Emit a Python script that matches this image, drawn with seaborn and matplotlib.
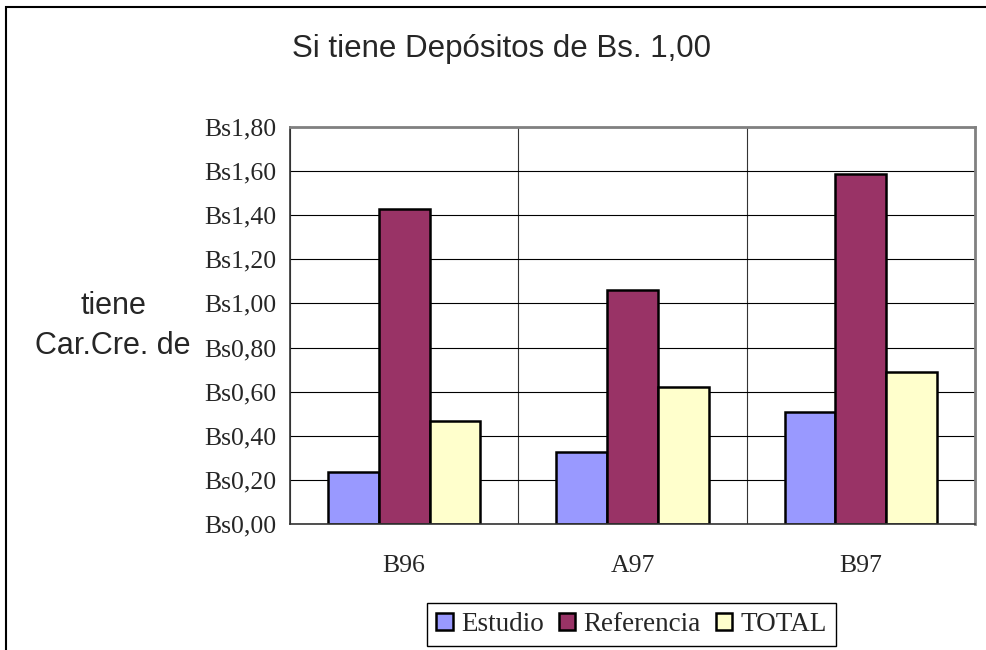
import pandas as pd
import seaborn as sns
import matplotlib.pyplot as plt
from matplotlib.patches import Patch, Rectangle

# data
periods = ['B96', 'A97', 'B97']
series = ['Estudio', 'Referencia', 'TOTAL']
estudio = [0.236, 0.326, 0.510]
referencia = [1.428, 1.059, 1.588]
total = [0.465, 0.621, 0.689]
colors = ['#9999FF', '#993366', '#FFFFCC']
y_ticks = [0.0, 0.2, 0.4, 0.6, 0.8, 1.0, 1.2, 1.4, 1.6, 1.8]
y_labels = ['Bs0,00', 'Bs0,20', 'Bs0,40', 'Bs0,60', 'Bs0,80',
            'Bs1,00', 'Bs1,20', 'Bs1,40', 'Bs1,60', 'Bs1,80']

rows = []
for name, vals in zip(series, [estudio, referencia, total]):
    for p, v in zip(periods, vals):
        rows.append({'periodo': p, 'serie': name, 'valor': v})
df = pd.DataFrame(rows)

sns.set_theme()
sns.set_style('white')
serif = ['Liberation Serif', 'DejaVu Serif']
sans = ['Liberation Sans', 'DejaVu Sans']

fig = plt.figure(figsize=(9.86, 6.5), dpi=100)
ax = fig.add_axes([290 / 986, 1 - 524 / 650, 685 / 986, 397 / 650])

sns.barplot(data=df, x='periodo', y='valor', hue='serie', order=periods,
            hue_order=series, palette=colors, width=0.667, gap=0,
            edgecolor='black', linewidth=1.8, saturation=1, ax=ax, legend=False)

ax.set_xlim(-0.5, 2.5)
ax.set_ylim(0, 1.8)
ax.set_yticks(y_ticks)
ax.set_yticklabels(y_labels, family=serif, fontsize=18.5)
ax.set_xticks(range(len(periods)))
ax.set_xticklabels(periods, family=serif, fontsize=18.5)
ax.set_xticks([-0.5, 0.5, 1.5, 2.5], minor=True)
ax.tick_params(axis='x', which='major', length=0, pad=22)
ax.tick_params(axis='x', which='minor', length=6, width=1, color='black', direction='out')
ax.tick_params(axis='y', length=6, width=1, color='black', direction='out', pad=4)
ax.set_xlabel('')
ax.set_ylabel('')

ax.grid(False)
ax.yaxis.grid(True, color='black', linewidth=0.8)
ax.xaxis.grid(True, which='minor', color='#333333', linewidth=0.8)
ax.set_axisbelow(True)

for side in ['top', 'right']:
    ax.spines[side].set_color('#808080')
    ax.spines[side].set_linewidth(2)
for side in ['left', 'bottom']:
    ax.spines[side].set_color('#333333')
    ax.spines[side].set_linewidth(1.2)

fig.text(501 / 986, 1 - 49 / 650, 'Si tiene Depósitos de Bs. 1,00',
         ha='center', va='center', family=sans, fontsize=22.5)
fig.text(113 / 986, 1 - 326 / 650, 'tiene\nCar.Cre. de', ha='center', va='center',
         family=sans, fontsize=22, linespacing=1.45)

handles = [Patch(facecolor=c, edgecolor='black', linewidth=1.8) for c in colors]
leg = fig.legend(handles, series, loc='center', ncol=3,
                 bbox_to_anchor=(631.5 / 986, 1 - 624.5 / 650),
                 prop={'family': serif, 'size': 19.5},
                 handlelength=0.62, handleheight=0.62, handletextpad=0.3,
                 columnspacing=0.55, borderpad=0.35, fancybox=False, framealpha=1)
leg.get_frame().set_edgecolor('black')
leg.get_frame().set_linewidth(1)

# chart area border (runs off the right and bottom edge)
fig.patches.append(Rectangle((6 / 986, -0.1), 1.2, 1 - 7 / 650 + 0.1,
                             transform=fig.transFigure, fill=False,
                             edgecolor='black', linewidth=1.5))

fig.savefig('out.png', dpi=100)
